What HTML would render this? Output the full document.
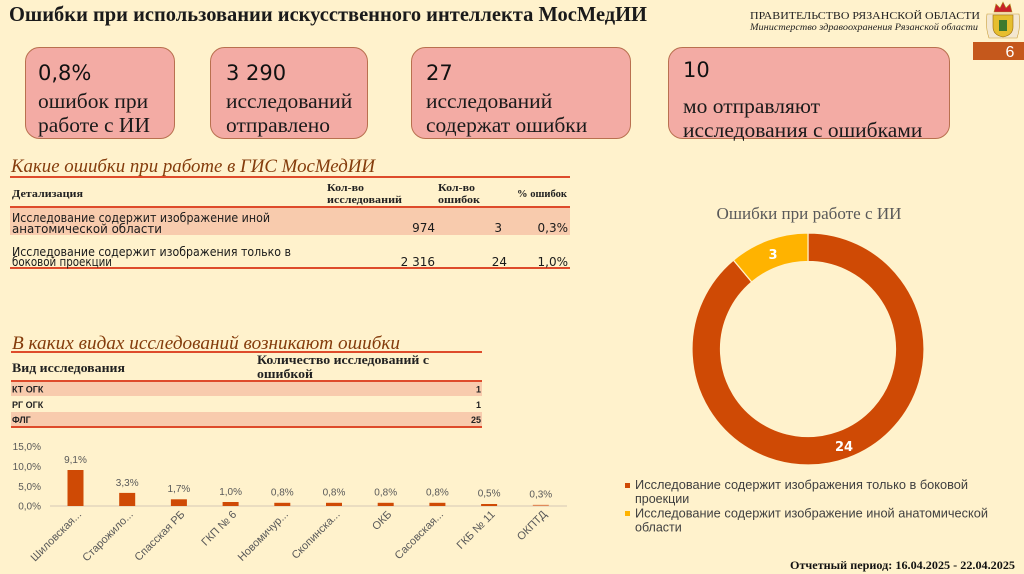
<!DOCTYPE html>
<html><head><meta charset="utf-8">
<style>
html,body{margin:0;padding:0;background:#FFF2CC;}
svg{display:block}
.serif{font-family:"Liberation Serif","Noto Serif CJK SC",serif}
.sans{font-family:"Liberation Sans","Noto Sans CJK SC",sans-serif}
.dv{font-family:"DejaVu Sans","Liberation Sans",sans-serif}
</style></head><body>
<svg width="1024" height="574" viewBox="0 0 1024 574" xmlns="http://www.w3.org/2000/svg">
<rect width="1024" height="574" fill="#FFF2CC"/>

<!-- Title -->
<text x="9" y="21" class="serif" font-weight="bold" font-size="21" fill="#1a1a1a" textLength="638" lengthAdjust="spacingAndGlyphs">Ошибки при использовании искусственного интеллекта МосМедИИ</text>

<!-- Header right -->
<text x="750" y="19" class="serif" font-size="11" fill="#222" textLength="230" lengthAdjust="spacingAndGlyphs">ПРАВИТЕЛЬСТВО РЯЗАНСКОЙ ОБЛАСТИ</text>
<text x="750" y="30" class="serif" font-style="italic" font-size="9.5" fill="#222" textLength="228" lengthAdjust="spacingAndGlyphs">Министерство здравоохранения Рязанской области</text>
<!-- coat of arms -->
<path d="M994 12 l2 -8 l4 4 l3 -6 l3 6 l4 -4 l2 8z" fill="#C8202A" stroke="#B08A20" stroke-width="0.6"/>
<path d="M987 14 q-2 12 2 24 l28 0 q4 -12 2 -24z" fill="#F3E7D0" stroke="#C9A040" stroke-width="0.6"/>
<path d="M993 15 h20 v12 q0 8 -10 10 q-10 -2 -10 -10z" fill="#E6BE2E" stroke="#9A6A10" stroke-width="0.6"/>
<rect x="999" y="20" width="8" height="11" fill="#3E7A2E"/>

<!-- Page number -->
<rect x="973" y="42" width="51" height="18" fill="#C5581C"/>
<text x="1010" y="57" class="sans" font-size="16" fill="#fff" text-anchor="middle">6</text>

<!-- Cards -->
<g stroke="#B9704F" stroke-width="1" fill="#F3ABA4">
<rect x="25.5" y="47.5" width="149" height="91" rx="14"/>
<rect x="210.5" y="47.5" width="157" height="91" rx="14"/>
<rect x="411.5" y="47.5" width="219" height="91" rx="14"/>
<rect x="668.5" y="47.5" width="281" height="91" rx="14"/>
</g>
<g class="dv" font-size="21" fill="#111">
<text x="38" y="80">0,8%</text>
<text x="226" y="80">3 290</text>
<text x="426" y="80">27</text>
<text x="683" y="77">10</text>
</g>
<g class="serif" font-size="21.5" fill="#1a1a1a">
<text x="38" y="108">ошибок при</text>
<text x="38" y="132">работе с ИИ</text>
<text x="226" y="108">исследований</text>
<text x="226" y="132">отправлено</text>
<text x="426" y="108">исследований</text>
<text x="426" y="132">содержат ошибки</text>
<text x="683" y="113">мо отправляют</text>
<text x="683" y="137">исследования с ошибками</text>
</g>

<!-- Section 1 -->
<text x="11" y="172" class="serif" font-style="italic" font-size="19" fill="#843C0C" textLength="364" lengthAdjust="spacingAndGlyphs">Какие ошибки при работе в ГИС МосМедИИ</text>
<rect x="10" y="208" width="560" height="27" fill="#F8CBAD"/>
<g stroke="#DE4B2B" stroke-width="2">
<line x1="10" y1="177" x2="570" y2="177"/>
<line x1="10" y1="207" x2="570" y2="207"/>
<line x1="10" y1="268" x2="570" y2="268"/>
</g>
<g class="serif" font-weight="bold" font-size="11" fill="#222">
<text x="12" y="197" textLength="71" lengthAdjust="spacingAndGlyphs">Детализация</text>
<text x="327" y="191" textLength="37" lengthAdjust="spacingAndGlyphs">Кол-во</text>
<text x="327" y="203" textLength="75" lengthAdjust="spacingAndGlyphs">исследований</text>
<text x="438" y="191" textLength="37" lengthAdjust="spacingAndGlyphs">Кол-во</text>
<text x="438" y="203" textLength="42" lengthAdjust="spacingAndGlyphs">ошибок</text>
<text x="517" y="197" textLength="50" lengthAdjust="spacingAndGlyphs">% ошибок</text>
</g>
<g class="dv" font-size="12" fill="#1a1a1a">
<text x="12" y="222" textLength="258" lengthAdjust="spacingAndGlyphs">Исследование содержит изображение иной</text>
<text x="12" y="233" textLength="150" lengthAdjust="spacingAndGlyphs">анатомической области</text>
<text x="12" y="256" textLength="279" lengthAdjust="spacingAndGlyphs">Исследование содержит изображения только в</text>
<text x="12" y="266" textLength="100" lengthAdjust="spacingAndGlyphs">боковой проекции</text>
<g text-anchor="end">
<text x="435" y="232">974</text>
<text x="502" y="232">3</text>
<text x="568" y="232">0,3%</text>
<text x="435" y="266">2 316</text>
<text x="507" y="266">24</text>
<text x="568" y="266">1,0%</text>
</g>
</g>

<!-- Section 2 -->
<text x="12" y="349" class="serif" font-style="italic" font-size="19" fill="#843C0C" textLength="388" lengthAdjust="spacingAndGlyphs">В каких видах исследований возникают ошибки</text>
<rect x="11" y="382" width="471" height="14" fill="#F8CBAD"/>
<rect x="11" y="412" width="471" height="14" fill="#F8CBAD"/>
<g stroke="#DE4B2B" stroke-width="2">
<line x1="11" y1="352" x2="482" y2="352"/>
<line x1="11" y1="381" x2="482" y2="381"/>
<line x1="11" y1="427" x2="482" y2="427"/>
</g>
<g class="serif" font-weight="bold" font-size="12.5" fill="#222">
<text x="12" y="372" textLength="113" lengthAdjust="spacingAndGlyphs">Вид исследования</text>
<text x="257" y="364" textLength="172" lengthAdjust="spacingAndGlyphs">Количество исследований с</text>
<text x="257" y="378" textLength="56" lengthAdjust="spacingAndGlyphs">ошибкой</text>
</g>
<g class="sans" font-weight="bold" font-size="9" fill="#222">
<text x="12" y="392.5">КТ ОГК</text>
<text x="12" y="408">РГ ОГК</text>
<text x="12" y="423">ФЛГ</text>
<g text-anchor="end">
<text x="481" y="392.5">1</text>
<text x="481" y="408">1</text>
<text x="481" y="423">25</text>
</g>
</g>

<!-- Bar chart -->
<g class="sans" font-size="10" fill="#595959" text-anchor="end">
<text x="41" y="450">15,0%</text>
<text x="41" y="470">10,0%</text>
<text x="41" y="490">5,0%</text>
<text x="41" y="509.5">0,0%</text>
</g>
<line x1="50" y1="506" x2="567" y2="506" stroke="#E3D6BD" stroke-width="1.5"/>
<g fill="#CF4A05">
<rect x="67.5" y="470" width="16" height="36"/>
<rect x="119.2" y="492.9" width="16" height="13.1"/>
<rect x="170.9" y="499.3" width="16" height="6.7"/>
<rect x="222.6" y="502" width="16" height="4"/>
<rect x="274.3" y="502.8" width="16" height="3.2"/>
<rect x="326" y="502.8" width="16" height="3.2"/>
<rect x="377.7" y="502.8" width="16" height="3.2"/>
<rect x="429.4" y="502.8" width="16" height="3.2"/>
<rect x="481.1" y="504" width="16" height="2"/>
<rect x="532.8" y="504.8" width="16" height="1.2" fill="#E08A5A"/>
</g>
<g class="sans" font-size="10" fill="#595959" text-anchor="middle">
<text x="75.5" y="463">9,1%</text>
<text x="127.2" y="486">3,3%</text>
<text x="178.9" y="492">1,7%</text>
<text x="230.6" y="495">1,0%</text>
<text x="282.3" y="495.5">0,8%</text>
<text x="334" y="495.5">0,8%</text>
<text x="385.7" y="495.5">0,8%</text>
<text x="437.4" y="495.5">0,8%</text>
<text x="489.1" y="496.5">0,5%</text>
<text x="540.8" y="497.5">0,3%</text>
</g>
<g class="sans" font-size="11" fill="#595959" text-anchor="end">
<text transform="translate(82,515) rotate(-45)">Шиловская...</text>
<text transform="translate(133.7,515) rotate(-45)">Старожило...</text>
<text transform="translate(185.4,515) rotate(-45)">Спасская РБ</text>
<text transform="translate(237.1,515) rotate(-45)">ГКП № 6</text>
<text transform="translate(288.8,515) rotate(-45)">Новомичур...</text>
<text transform="translate(340.5,515) rotate(-45)">Скопинска...</text>
<text transform="translate(392.2,515) rotate(-45)">ОКБ</text>
<text transform="translate(443.9,515) rotate(-45)">Сасовская...</text>
<text transform="translate(495.6,515) rotate(-45)">ГКБ № 11</text>
<text transform="translate(547.3,515) rotate(-45)">ОКПТД</text>
</g>

<!-- Donut chart -->
<text x="809" y="219" class="serif" font-size="17" fill="#595959" text-anchor="middle" textLength="185" lengthAdjust="spacingAndGlyphs">Ошибки при работе с ИИ</text>
<path d="M808 233 A116 116 0 1 1 733.44 260.14 L751.76 281.97 A87.5 87.5 0 1 0 808 261.5 Z" fill="#CF4A05" stroke="#FFF2CC" stroke-width="1.2"/>
<path d="M733.44 260.14 A116 116 0 0 1 808 233 L808 261.5 A87.5 87.5 0 0 0 751.76 281.97 Z" fill="#FFB300" stroke="#FFF2CC" stroke-width="1.2"/>
<g class="dv" font-weight="bold" font-size="13" fill="#fff" text-anchor="middle">
<text x="773" y="259">3</text>
<text x="844" y="451">24</text>
</g>

<!-- Legend -->
<rect x="625" y="483" width="5" height="5" fill="#CF4A05"/>
<rect x="625" y="511" width="5" height="5" fill="#FFB300"/>
<g class="sans" font-size="12.5" fill="#404040">
<text x="635" y="489" textLength="333" lengthAdjust="spacingAndGlyphs">Исследование содержит изображения только в боковой</text>
<text x="635" y="503">проекции</text>
<text x="635" y="517.5" textLength="353" lengthAdjust="spacingAndGlyphs">Исследование содержит изображение иной анатомической</text>
<text x="635" y="531.5">области</text>
</g>

<!-- Footer -->
<text x="790" y="569" class="serif" font-weight="bold" font-size="12" fill="#111" textLength="225" lengthAdjust="spacingAndGlyphs">Отчетный период: 16.04.2025 - 22.04.2025</text>
</svg>
</body></html>
